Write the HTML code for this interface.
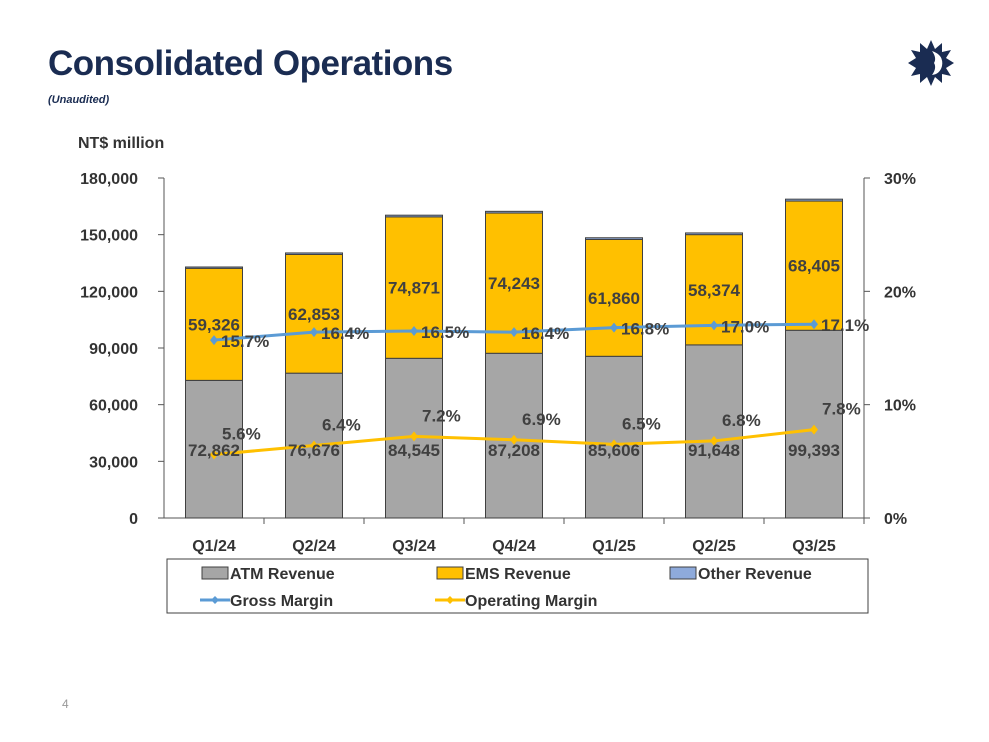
<!DOCTYPE html>
<html><head><meta charset="utf-8"><style>
body{margin:0;width:989px;height:742px;background:#fff;font-family:"Liberation Sans",sans-serif;overflow:hidden;position:relative}
.t{position:absolute;left:48px;top:44px;font-size:35px;font-weight:bold;color:#1a2c52;letter-spacing:-0.5px}
.u{position:absolute;left:48px;top:94px;font-size:11px;font-style:italic;font-weight:bold;color:#1a2c52}
</style></head><body>
<div class="t">Consolidated Operations</div>
<div class="u">(Unaudited)</div>
<svg style="position:absolute;left:906px;top:38px" width="50" height="50" viewBox="0 0 50 50">
<polygon fill="#1a2c52" points="25,2 29,11 36,5 36,14 45,12 40,20 48,25 40,30 45,38 36,36 36,45 29,39 25,48 21,39 14,45 14,36 5,38 10,30 2,25 10,20 5,12 14,14 14,5 21,11"/>
<path d="M26,13 Q38,17 36,28 Q34,36 26,37 Q31,30 28,25 Q31,20 26,13Z" fill="#fff"/></svg>
<svg width="989" height="742" style="position:absolute;left:0;top:0" id="c"></svg>
<div style="position:absolute;left:62px;top:697px;font-size:12px;color:#999">4</div>
<script>
const categories=["Q1/24","Q2/24","Q3/24","Q4/24","Q1/25","Q2/25","Q3/25"];
const atm=[72862,76676,84545,87208,85606,91648,99393];
const ems=[59326,62853,74871,74243,61860,58374,68405];
const other=[700,800,900,900,900,900,1000];
const gross=[15.7,16.4,16.5,16.4,16.8,17.0,17.1];
const opm=[5.6,6.4,7.2,6.9,6.5,6.8,7.8];
const leftTicks=[0,30000,60000,90000,120000,150000,180000];
const rightTicks=[0,10,20,30];
const svg=document.getElementById('c');const NS='http://www.w3.org/2000/svg';
const X0=164,X1=864,Y0=518,Y1=178;
const y=v=>Y0-v/180000*(Y0-Y1), yr=p=>Y0-p/30*(Y0-Y1), cx=i=>X0+(X1-X0)/7*(i+0.5);
function el(t,a,txt){const e=document.createElementNS(NS,t);for(const k in a)e.setAttribute(k,a[k]);if(txt!=null)e.textContent=txt;svg.appendChild(e);return e;}
const F='font-family:Liberation Sans,sans-serif;font-weight:bold;';
let e;
e=el('text',{x:78,y:148,style:F+'font-size:16px',fill:'#333'},'NT$ million');

e=el('line',{x1:X0,y1:Y1,x2:X0,y2:Y0,stroke:'#555'});
e=el('line',{x1:X1,y1:Y1,x2:X1,y2:Y0,stroke:'#555'});
e=el('line',{x1:X0,y1:Y0,x2:X1,y2:Y0,stroke:'#555'});
leftTicks.forEach(v=>{el('line',{x1:X0-6,x2:X0,y1:y(v),y2:y(v),stroke:'#555'});
e=el('text',{x:X0-26,y:y(v)+6,'text-anchor':'end',style:F+'font-size:16px',fill:'#333'},v.toLocaleString('en-US'));
});
rightTicks.forEach(v=>{el('line',{x1:X1,x2:X1+6,y1:yr(v),y2:yr(v),stroke:'#555'});
e=el('text',{x:X1+20,y:yr(v)+6,style:F+'font-size:16px',fill:'#333'},v+'%');
});
categories.forEach((c,i)=>{
 const xl=X0+(X1-X0)/7*(i+1);el('line',{x1:xl,x2:xl,y1:Y0,y2:Y0+6,stroke:'#555'});
 e=el('text',{x:cx(i),y:Y0+33,'text-anchor':'middle',style:F+'font-size:16px',fill:'#333'},c);
 
 const w=57,x=cx(i)-w/2;
 e=el('rect',{x,y:y(atm[i]),width:w,height:Y0-y(atm[i]),fill:'#a6a6a6',stroke:'#404040'});
 
 e=el('rect',{x,y:y(atm[i]+ems[i]),width:w,height:y(atm[i])-y(atm[i]+ems[i]),fill:'#ffc000',stroke:'#404040'});
 
 e=el('rect',{x,y:y(atm[i]+ems[i]+other[i]),width:w,height:y(atm[i]+ems[i])-y(atm[i]+ems[i]+other[i]),fill:'#8eaadb',stroke:'#404040'});
 
});
function line(vals,col,name){
 el('polyline',{points:vals.map((v,i)=>cx(i)+','+yr(v)).join(' '),fill:'none',stroke:col,'stroke-width':3});
 vals.forEach((v,i)=>{e=el('polygon',{points:`${cx(i)},${yr(v)-5} ${cx(i)+4},${yr(v)} ${cx(i)},${yr(v)+5} ${cx(i)-4},${yr(v)}`,fill:col});
 });
}
line(gross,'#5b9bd5','gross-margin');
line(opm,'#ffc000','operating-margin');
const LF=F+'font-size:17px';
categories.forEach((c,i)=>{
 e=el('text',{x:cx(i),y:y(atm[i]+ems[i]/2)+6,'text-anchor':'middle',style:LF,fill:'#404040'},ems[i].toLocaleString('en-US'));
 
 e=el('text',{x:cx(i),y:456,'text-anchor':'middle',style:LF,fill:'#404040'},atm[i].toLocaleString('en-US'));
 
 e=el('text',{x:cx(i)+7,y:yr(gross[i])+7,style:LF,fill:'#404040'},gross[i].toFixed(1)+'%');
 
 e=el('text',{x:cx(i)+8,y:yr(opm[i])-15,style:LF,fill:'#404040'},opm[i].toFixed(1)+'%');
 
});
e=el('rect',{x:167,y:559,width:701,height:54,fill:'#fff',stroke:'#404040'});

const leg=[['ATM Revenue','#a6a6a6',200,573,0],['EMS Revenue','#ffc000',435,573,0],['Other Revenue','#8eaadb',668,573,0],['Gross Margin','#5b9bd5',200,600,1],['Operating Margin','#ffc000',435,600,1]];
leg.forEach(([t,col,x,yy,ln])=>{
 if(ln){el('line',{x1:x,x2:x+30,y1:yy,y2:yy,stroke:col,'stroke-width':3});el('polygon',{points:`${x+15},${yy-4} ${x+19},${yy} ${x+15},${yy+4} ${x+11},${yy}`,fill:col});}
 else el('rect',{x:x+2,y:yy-6,width:26,height:12,fill:col,stroke:'#404040'});
 e=el('text',{x:x+30,y:yy+6,style:F+'font-size:16px',fill:'#333'},t);
 
});
</script>
</body></html>
